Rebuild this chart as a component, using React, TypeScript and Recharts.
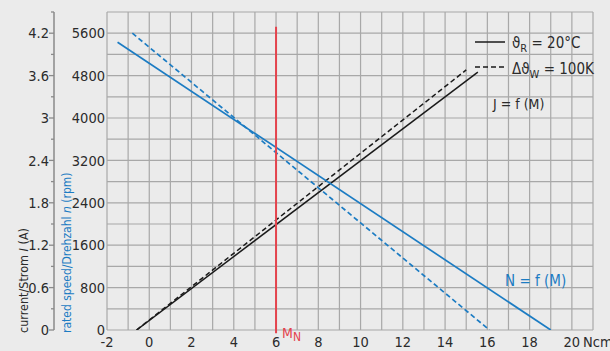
import React from 'react';
import { ComposedChart, Line, XAxis, YAxis, CartesianGrid, ReferenceLine } from 'recharts';

const FONT = "'DejaVu Sans Condensed', 'Liberation Sans Narrow', sans-serif";
const BLUE = '#1c7cc3';
const RED = '#e4434d';
const GRID = '#a8a8a8';
const TEXT = '#2b2b2b';

// torque axis (Ncm)
const torqueTicks = [-2, -1, 0, 1, 2, 3, 4, 5, 6, 7, 8, 9, 10, 11, 12, 13, 14, 15, 16, 17, 18, 19, 20, 21];
// speed axis (rpm)
const speedTicks = [0, 400, 800, 1200, 1600, 2000, 2400, 2800, 3200, 3600, 4000, 4400, 4800, 5200, 5600, 6000];
// current axis (A)
const currentTicks = [0, 0.3, 0.6, 0.9, 1.2, 1.5, 1.8, 2.1, 2.4, 2.7, 3.0, 3.3, 3.6, 3.9, 4.2, 4.5];

// J = f(M)
const current20C = [{ m: -0.6, i: 0 }, { m: 15.55, i: 3.65 }];
const current100K = [{ m: -0.6, i: 0 }, { m: 15.0, i: 3.68 }];
// N = f(M)
const speed20C = [{ m: -1.5, n: 5430 }, { m: 19.0, n: 0 }];
const speed100K = [{ m: -0.8, n: 5600 }, { m: 16.1, n: 0 }];
// rated torque M_N
const ratedTorque = 6;
const ratedLineSpan = [-60, 5720];

const SPEED = 'a-speed';
const CURRENT = 'b-current';
const TICK_FS = 14.5;

const fmtSpeed = (v: number) => (v % 800 === 0 && v <= 5600 ? String(v) : '');

const TorqueTick = (props: any) => {
  const { x, y, payload } = props;
  const v = payload.value as number;
  if (v === 21) {
    return (
      <text x={x - 10} y={y} dy={17} textAnchor="start" fill={TEXT} fontSize={TICK_FS} fontFamily={FONT}>Ncm</text>
    );
  }
  if (v % 2 !== 0) return <g />;
  return (
    <text x={x} y={y} dy={17} textAnchor="middle" fill={TEXT} fontSize={TICK_FS} fontFamily={FONT}>{String(v)}</text>
  );
};

const CurrentTick = (props: any) => {
  const { x, y, payload } = props;
  const v = payload.value as number;
  const k = v / 0.6;
  const major = Math.abs(k - Math.round(k)) < 1e-6 && v < 4.4;
  const label = major ? (Math.abs(v - 3) < 1e-6 ? '3' : v === 0 ? '0' : v.toFixed(1)) : '';
  return (
    <g>
      <line x1={x - (major ? 5 : 3)} x2={x} y1={y} y2={y} stroke="#8a8a8a" strokeWidth={1.3} />
      {major && (
        <text x={x - 5} y={y} dy="0.36em" textAnchor="end" fill={TEXT} fontSize={TICK_FS} fontFamily={FONT}>
          {label}
        </text>
      )}
    </g>
  );
};

export default function App() {
  return (
    <div style={{ position: 'absolute', left: 0, top: 0, width: 610, height: 351, background: '#ebebeb' }}>
      <ComposedChart width={610} height={351} margin={{ top: 12, right: 17, bottom: 0, left: 0 }}>
        <CartesianGrid xAxisId="m" yAxisId={SPEED} stroke={GRID} strokeWidth={1.2} />
        <XAxis
          xAxisId="m"
          dataKey="m"
          type="number"
          domain={[-2, 21]}
          ticks={torqueTicks}
          interval={0}
          allowDataOverflow
          axisLine={false}
          tickLine={false}
          tickSize={0}
          tickMargin={0}
          height={21}
          tick={<TorqueTick />}
        />
        <YAxis
          yAxisId={SPEED}
          type="number"
          domain={[0, 6000]}
          ticks={speedTicks}
          interval={0}
          allowDataOverflow
          width={53}
          axisLine={false}
          tickLine={false}
          tickSize={0}
          tickMargin={2}
          tick={{ fill: TEXT, fontSize: TICK_FS, fontFamily: FONT }}
          tickFormatter={fmtSpeed}
        />
        <YAxis
          yAxisId={CURRENT}
          type="number"
          domain={[0, 4.5]}
          ticks={currentTicks}
          interval={0}
          allowDataOverflow
          width={54}
          axisLine={{ stroke: '#8a8a8a', strokeWidth: 1.5 }}
          tickLine={false}
          tickSize={0}
          tickMargin={0}
          tick={<CurrentTick />}
        />
        <Line xAxisId="m" yAxisId={CURRENT} data={current20C} dataKey="i" stroke="#1a1a1a" strokeWidth={1.5} dot={false} isAnimationActive={false} />
        <Line xAxisId="m" yAxisId={CURRENT} data={current100K} dataKey="i" stroke="#1a1a1a" strokeWidth={1.5} strokeDasharray="5 3" dot={false} isAnimationActive={false} />
        <Line xAxisId="m" yAxisId={SPEED} data={speed20C} dataKey="n" stroke={BLUE} strokeWidth={1.7} dot={false} isAnimationActive={false} />
        <Line xAxisId="m" yAxisId={SPEED} data={speed100K} dataKey="n" stroke={BLUE} strokeWidth={1.7} strokeDasharray="5 3" dot={false} isAnimationActive={false} />
        <ReferenceLine
          xAxisId="m"
          yAxisId={SPEED}
          segment={[{ x: ratedTorque, y: ratedLineSpan[0] }, { x: ratedTorque, y: ratedLineSpan[1] }]}
          ifOverflow="visible"
          stroke={RED}
          strokeWidth={2}
        />
        <g fontFamily={FONT}>
          <text transform="translate(28,333) rotate(-90)" fontSize={12.5} fill={TEXT}>
            current/Strom <tspan fontStyle="italic">I</tspan> (A)
          </text>
          <text transform="translate(71,333) rotate(-90)" fontSize={12} fill={BLUE}>
            rated speed/Drehzahl <tspan fontStyle="italic">n</tspan> (rpm)
          </text>
          <line x1={475} x2={505} y1={42} y2={42} stroke="#1a1a1a" strokeWidth={1.5} />
          <text x={512} y={48} fontSize={15} fill={TEXT}>
            ϑ<tspan fontSize={11} dy={4}>R</tspan><tspan dy={-4}> = 20°C</tspan>
          </text>
          <line x1={475} x2={505} y1={67} y2={67} stroke="#1a1a1a" strokeWidth={1.5} strokeDasharray="5 3" />
          <text x={512} y={74} fontSize={15} fill={TEXT}>
            Δϑ<tspan fontSize={11} dy={4}>W</tspan><tspan dy={-4}> = 100K</tspan>
          </text>
          <text x={493} y={109} fontSize={14} fill={TEXT}>J = f (M)</text>
          <text x={505} y={286} fontSize={15} fill={BLUE}>N = f (M)</text>
          <text x={282} y={338} fontSize={14} fill={RED}>
            M<tspan fontSize={12} dy={3}>N</tspan>
          </text>
        </g>
      </ComposedChart>
    </div>
  );
}
